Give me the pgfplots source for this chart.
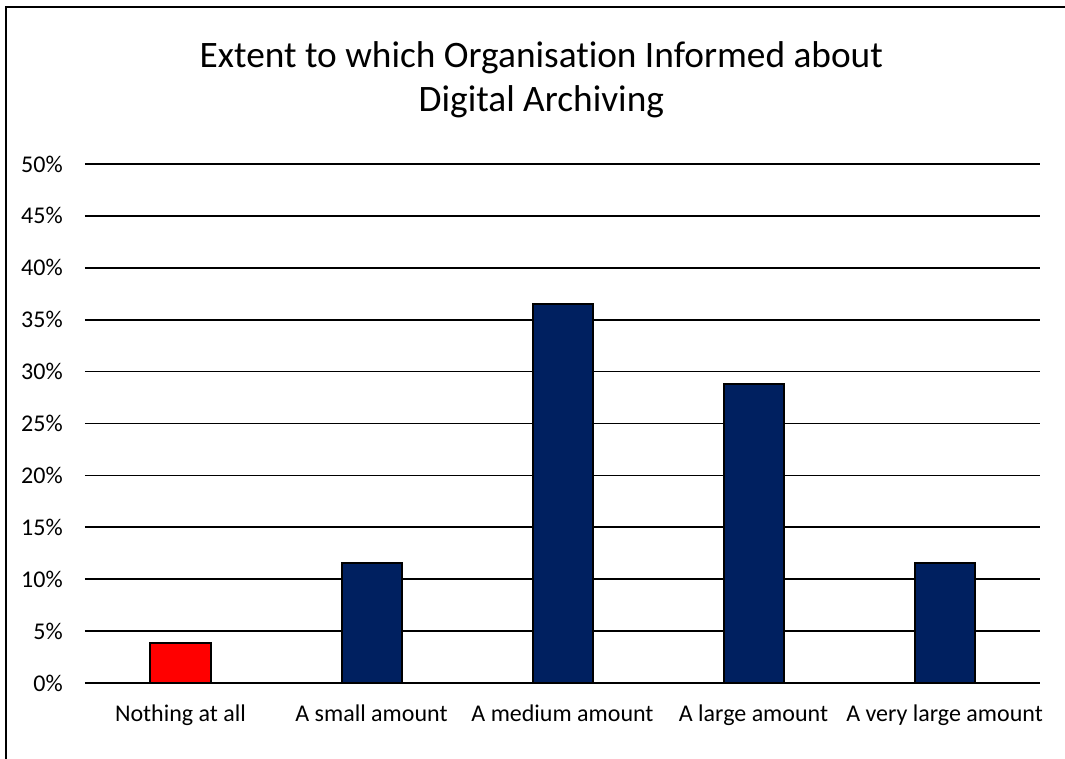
\documentclass[border=0pt]{standalone}
\usepackage{fontspec}
\setmainfont{Carlito}[Ligatures=CommonOff]
\usepackage{pgfplots}
\pgfplotsset{compat=1.18}

\definecolor{navy}{HTML}{002060}

\begin{document}
\begin{tikzpicture}
% canvas: 1065 x 758 px at 0.75pt per px
\useasboundingbox (0,0) rectangle (798.75pt,568.5pt);
% chart area border: right and bottom edges fall outside the page
\begin{scope}
\clip (0,0) rectangle (798.75pt,568.5pt);
\draw[line width=1.5pt] (4.5pt,-30pt) rectangle (830pt,563.25pt);
\end{scope}

\node[font=\fontsize{28}{35}\selectfont, anchor=base]
  at (406pt,518pt) {Extent to which Organisation Informed about};
\node[font=\fontsize{28}{35}\selectfont, anchor=base]
  at (406pt,484.5pt) {Digital Archiving};

\begin{axis}[
  at={(63.75pt,56.25pt)}, anchor=south west,
  scale only axis,
  width=716.25pt, height=389.25pt,
  xmin=-0.5, xmax=4.5,
  ymin=0, ymax=50,
  ytick={0,5,...,50},
  xtick={0,1,2,3,4},
  xticklabels={Nothing at all, A small amount, A medium amount, A large amount, A very large amount},
  yticklabel={\pgfmathprintnumber{\tick}\%},
  /pgf/number format/assume math mode=true,
  axis line style={draw=none},
  major tick length=0pt,
  ymajorgrids,
  major grid style={black, line width=1.3pt},
  tick label style={font=\fontsize{18}{22}\selectfont},
  yticklabel style={anchor=east, inner sep=0pt, xshift=-16.5pt},
  xticklabel style={anchor=north, inner sep=0pt, yshift=-16pt},
  ybar, bar width=45pt, bar shift=0pt,
  clip=false,
]
\addplot[fill=red, draw=black, line width=1.5pt] coordinates {(0,3.85)};
\addplot[fill=navy, draw=black, line width=1.5pt] coordinates {(1,11.54) (2,36.54) (3,28.85) (4,11.54)};
\end{axis}
\end{tikzpicture}
\end{document}
